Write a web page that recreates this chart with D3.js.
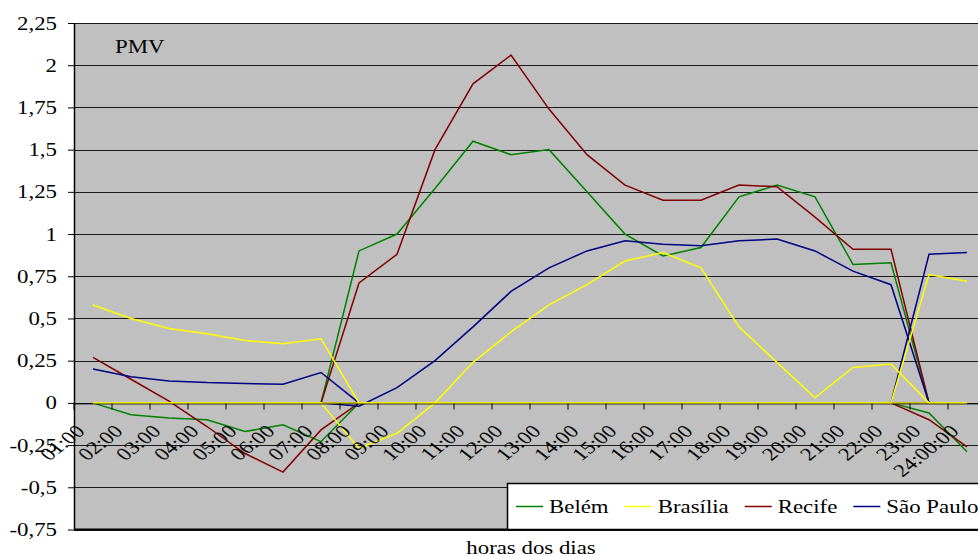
<!DOCTYPE html>
<html>
<head>
<meta charset="utf-8">
<script src="https://cdn.jsdelivr.net/npm/d3@7"></script>
<style>
  html, body { margin: 0; padding: 0; background: #fff; overflow: hidden; }
  text { font-family: "Liberation Serif", "Times New Roman", serif; fill: #000; }
</style>
</head>
<body>
<svg id="chart" width="978" height="556"></svg>
<script>
// Hours of the day (category axis)
const hours = ["01:00","02:00","03:00","04:00","05:00","06:00","07:00","08:00",
  "09:00","10:00","11:00","12:00","13:00","14:00","15:00","16:00",
  "17:00","18:00","19:00","20:00","21:00","22:00","23:00","24:00:00"];

// Value axis ticks and their labels (decimal comma)
const yTicks = [-0.75,-0.5,-0.25,0,0.25,0.5,0.75,1,1.25,1.5,1.75,2,2.25];
const yTickLabels = ["-0,75","-0,5","-0,25","0","0,25","0,5","0,75","1","1,25","1,5","1,75","2","2,25"];

const cities = ["Belém","Brasília","Recife","São Paulo"];
const cityColors = ["#008000","#ffff00","#800000","#000080"];

// PMV per city, split in three periods (night / day / late night); zero outside each period
const belemNight   = [0,-0.07,-0.09,-0.1,-0.17,-0.13,-0.23,0,0,0,0,0,0,0,0,0,0,0,0,0,0,0,0,0];
const belemDay     = [0,0,0,0,0,0,0,0.9,1.0,1.27,1.55,1.47,1.5,1.25,1.0,0.87,0.92,1.22,1.29,1.22,0.82,0.83,0,0];
const belemLate    = [0,0,0,0,0,0,0,0,0,0,0,0,0,0,0,0,0,0,0,0,0,0,-0.06,-0.29];

const brasiliaNight = [0.58,0.5,0.44,0.41,0.37,0.35,0.38,0,0,0,0,0,0,0,0,0,0,0,0,0,0,0,0,0];
const brasiliaDay   = [0,0,0,0,0,0,0,-0.27,-0.18,0.0,0.24,0.42,0.58,0.7,0.84,0.89,0.8,0.45,0.24,0.03,0.21,0.23,0,0];
const brasiliaLate  = [0,0,0,0,0,0,0,0,0,0,0,0,0,0,0,0,0,0,0,0,0,0,0.76,0.72];

const recifeNight  = [0.27,0.14,0.01,-0.14,-0.3,-0.41,-0.16,0,0,0,0,0,0,0,0,0,0,0,0,0,0,0,0,0];
const recifeDay    = [0,0,0,0,0,0,0,0.71,0.88,1.5,1.89,2.06,1.74,1.47,1.29,1.2,1.2,1.29,1.28,1.1,0.91,0.91,0,0];
const recifeLate   = [0,0,0,0,0,0,0,0,0,0,0,0,0,0,0,0,0,0,0,0,0,0,-0.1,-0.26];

const saoPauloNight = [0.2,0.155,0.13,0.12,0.115,0.11,0.18,0,0,0,0,0,0,0,0,0,0,0,0,0,0,0,0,0];
const saoPauloDay   = [0,0,0,0,0,0,0,-0.02,0.09,0.25,0.45,0.66,0.8,0.9,0.96,0.94,0.93,0.96,0.97,0.9,0.78,0.7,0,0];
const saoPauloLate  = [0,0,0,0,0,0,0,0,0,0,0,0,0,0,0,0,0,0,0,0,0,0,0.88,0.89];

const seriesByCity = [
  [belemNight, belemDay, belemLate],
  [brasiliaNight, brasiliaDay, brasiliaLate],
  [recifeNight, recifeDay, recifeLate],
  [saoPauloNight, saoPauloDay, saoPauloLate]
];
// drawing order of the cities (Brasília on top)
const drawOrder = [0, 2, 3, 1];

const SX = 1.27;        // horizontal stretch of the lettering
const FONT = 18;

const svg = d3.select("#chart");
const plotLeft = 74, plotTop = 23, plotBottom = 529.5, plotRight = 986;

const x = d3.scaleBand().domain(hours).range([plotLeft, plotRight]);
const y = d3.scaleLinear().domain([-0.75, 2.25]).range([plotBottom, plotTop]);

// plot area
svg.append("rect").attr("x", plotLeft).attr("y", plotTop)
  .attr("width", plotRight - plotLeft).attr("height", plotBottom - plotTop).attr("fill", "#c0c0c0");

// horizontal gridlines
svg.append("g").selectAll("line").data(yTicks).join("line")
  .attr("x1", plotLeft).attr("x2", plotRight)
  .attr("y1", d => Math.round(y(d)) + 0.5).attr("y2", d => Math.round(y(d)) + 0.5)
  .attr("stroke", "#1a1a1a").attr("stroke-width", 1);
svg.append("line").attr("x1", plotLeft).attr("x2", plotRight)
  .attr("y1", plotBottom).attr("y2", plotBottom).attr("stroke", "#000").attr("stroke-width", 2);

// value axis
const yAxis = svg.append("g").attr("transform", `translate(${plotLeft},0)`)
  .call(d3.axisLeft(y).tickValues(yTicks).tickFormat((d, i) => yTickLabels[i]).tickSize(6).tickSizeOuter(0));
yAxis.select(".domain").attr("stroke", "#000").attr("stroke-width", 1.5);
yAxis.selectAll(".tick line").attr("stroke", "#000");
yAxis.selectAll(".tick text")
  .attr("x", null).attr("dy", "0.34em")
  .attr("transform", `translate(-17,0) scale(${SX},1)`)
  .attr("text-anchor", "end")
  .style("font-size", FONT + "px")
  .style("font-family", '"Liberation Serif","Times New Roman",serif');

// series lines
const line = d3.line()
  .x((d, i) => x(hours[i]) + x.bandwidth() / 2)
  .y(d => y(d));
const gLines = svg.append("g");
drawOrder.forEach(ci => {
  seriesByCity[ci].forEach(vals => {
    gLines.append("path").datum(vals)
      .attr("d", line).attr("fill", "none")
      .attr("stroke", cityColors[ci]).attr("stroke-width", 1.5)
      .attr("stroke-linejoin", "miter");
  });
});

// category axis crossing at zero, laid over the series so the zero run reads dark
const y0 = Math.round(y(0)) + 0.5;
const xAxis = svg.append("g").attr("transform", `translate(0,${y0})`)
  .call(d3.axisBottom(x).tickSize(6).tickSizeOuter(0));
xAxis.select(".domain").attr("stroke", "#000").attr("stroke-width", 1.6).attr("stroke-opacity", 0.5);
xAxis.selectAll(".tick line").attr("stroke", "#000")
  .attr("transform", `translate(${-x.bandwidth() / 2},0)`);
xAxis.selectAll(".tick text")
  .attr("y", null).attr("dy", null)
  .attr("transform", `translate(-7,29) scale(${SX},1) rotate(-45)`)
  .attr("text-anchor", "end")
  .style("font-size", FONT + "px")
  .style("font-family", '"Liberation Serif","Times New Roman",serif');

// chart label
svg.append("text").attr("transform", `translate(115,53) scale(${SX},1)`)
  .style("font-size", FONT + "px").text("PMV");

// axis title
svg.append("text").attr("transform", `translate(531,554) scale(${SX},1)`)
  .attr("text-anchor", "middle").style("font-size", FONT + "px").text("horas dos dias");

// legend
const lg = svg.append("g");
lg.append("rect").attr("x", 507.5).attr("y", 483.5).attr("width", 600).attr("height", 46)
  .attr("fill", "#fff").attr("stroke", "#000").attr("stroke-width", 1.5);
let cursor = 516;
cities.forEach((c, i) => {
  lg.append("line").attr("x1", cursor).attr("x2", cursor + 27)
    .attr("y1", 506.5).attr("y2", 506.5)
    .attr("stroke", cityColors[i]).attr("stroke-width", 1.5);
  const t = lg.append("text").attr("transform", `translate(${cursor + 33},513) scale(${SX},1)`)
    .style("font-size", FONT + "px").text(c);
  cursor += 33 + t.node().getComputedTextLength() * SX + 16;
});
</script>
</body>
</html>
